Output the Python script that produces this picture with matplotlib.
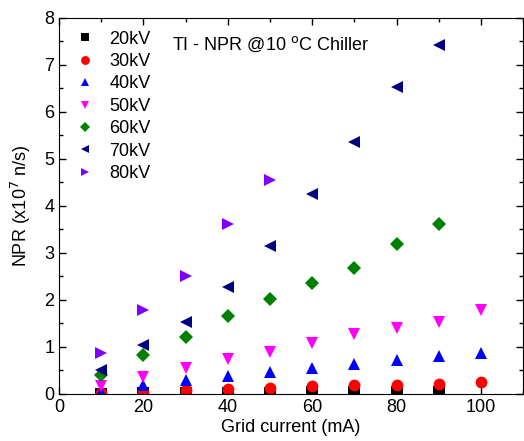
import matplotlib.pyplot as plt
from matplotlib.ticker import MultipleLocator

plt.rcParams['font.family'] = ['Liberation Sans', 'DejaVu Sans']

current = [10, 20, 30, 40, 50, 60, 70, 80, 90, 100]

npr_20kv = [0.01, 0.02, 0.02, 0.03, 0.03, 0.04, 0.04, 0.05, 0.05]
npr_30kv = [0.02, 0.05, 0.08, 0.11, 0.13, 0.16, 0.19, 0.20, 0.22, 0.25]
npr_40kv = [0.05, 0.20, 0.30, 0.38, 0.47, 0.56, 0.64, 0.72, 0.80, 0.87]
npr_50kv = [0.17, 0.36, 0.56, 0.75, 0.90, 1.08, 1.28, 1.40, 1.53, 1.78]
npr_60kv = [0.40, 0.82, 1.21, 1.65, 2.03, 2.37, 2.69, 3.19, 3.61]
npr_70kv = [0.50, 1.05, 1.53, 2.28, 3.14, 4.25, 5.36, 6.54, 7.43]
npr_80kv = [0.88, 1.79, 2.52, 3.62, 4.56]

series = [
    ("20kV", npr_20kv, "s", "black"),
    ("30kV", npr_30kv, "o", "red"),
    ("40kV", npr_40kv, "^", "blue"),
    ("50kV", npr_50kv, "v", "magenta"),
    ("60kV", npr_60kv, "D", "green"),
    ("70kV", npr_70kv, "<", "navy"),
    ("80kV", npr_80kv, ">", "#8000ff"),
]

fig = plt.figure(figsize=(5.24, 4.41), dpi=100)
ax = fig.add_axes([0.1126, 0.1066, 0.886, 0.8526])

for label, values, marker, color in series:
    ms = 7 if marker == "D" else 8.5
    ax.plot(current[:len(values)], values, linestyle="none", marker=marker,
            color=color, markersize=ms, markeredgewidth=0, label=label)

ax.set_xlim(0, 110)
ax.set_ylim(0, 8)
ax.xaxis.set_major_locator(MultipleLocator(20))
ax.xaxis.set_minor_locator(MultipleLocator(10))
ax.yaxis.set_major_locator(MultipleLocator(1))
ax.yaxis.set_minor_locator(MultipleLocator(0.5))
ax.tick_params(which="both", direction="in", top=True, right=True,
               labelsize=13, width=1)
ax.tick_params(which="major", length=5)
ax.tick_params(which="minor", length=3)

ax.set_xlabel("Grid current (mA)", fontsize=13, labelpad=2)
ax.set_ylabel(r"NPR (x10$^{7}$ n/s)", fontsize=13, labelpad=8)

ax.text(0.243, 0.955, r"TI - NPR @10 $^{\rm o}$C Chiller", transform=ax.transAxes,
        fontsize=13, va="top", ha="left")

ax.legend(loc="upper left", frameon=False, fontsize=13, markerscale=0.75,
          handletextpad=0.6, labelspacing=0.3, borderaxespad=0.3,
          handlelength=1.5)

fig.savefig("out.png", dpi=100)
